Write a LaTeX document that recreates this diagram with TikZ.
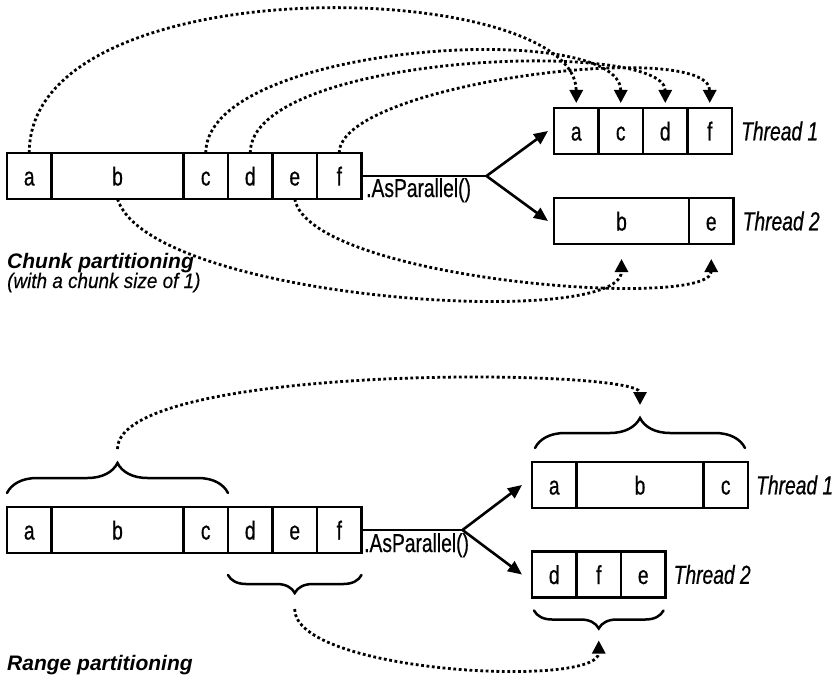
\documentclass[tikz,border=0pt]{standalone}
\usepackage{fontspec}
\setmainfont{Liberation Sans}[FakeStretch=0.74, FakeBold=0.6]
\newfontfamily\headfont{Liberation Sans}[FakeStretch=1.0]
\newfontfamily\notefont{Liberation Sans}[FakeStretch=0.9, FakeBold=0.4]
\usetikzlibrary{arrows.meta, positioning, calc, decorations.pathreplacing}

\begin{document}
\begin{tikzpicture}[
    x=1pt, y=-1pt,
    every node/.style={font=\fontsize{26}{30}\selectfont},
    cell/.style={draw, line width=2.3pt, minimum height=46pt, minimum width=44.5pt,
                 inner sep=0pt, outer sep=0pt, text height=19pt, text depth=0pt},
    wide/.style={cell, minimum width=#1},
    tag/.style={inner sep=0pt, font=\fontsize{26}{30}\selectfont\itshape},
    heading/.style={inner sep=0pt, anchor=base west, font=\headfont\fontsize{21}{24}\selectfont\bfseries\itshape},
    arrow/.style={-{Triangle[length=14pt,width=12pt]}, line width=2.6pt},
    dotline/.style={line width=2.8pt, dash pattern=on 2.8pt off 2.6pt},
    dotarrow/.style={dotline, -{Triangle[length=13pt,width=13pt]}},
    curly/.style={decorate, decoration={brace, amplitude=#1}, line width=2.5pt, line cap=round}
]
    \useasboundingbox (0,0) rectangle (833,682);

    % Chunk partitioning: source
    \node[cell, anchor=west] (ca) at (7,176) {a};
    \node[wide=132pt, right=0pt of ca] (cb) {b};
    \node[cell, right=0pt of cb] (cc) {c};
    \node[cell, right=0pt of cc] (cd) {d};
    \node[cell, right=0pt of cd] (ce) {e};
    \node[cell, right=0pt of ce] (cf) {f};

    % Chunk partitioning: threads
    \node[cell, anchor=west] (t1a) at (554,131) {a};
    \node[cell, right=0pt of t1a] (t1c) {c};
    \node[cell, right=0pt of t1c] (t1d) {d};
    \node[cell, right=0pt of t1d] (t1f) {f};
    \node[tag, right=9pt of t1f] (th1) {Thread 1};
    \node[wide=135pt, anchor=west] (t2b) at (554,221) {b};
    \node[cell, right=0pt of t2b] (t2e) {e};
    \node[tag, right=9pt of t2e] (th2) {Thread 2};

    \coordinate[right=125pt of cf] (cs);
    \draw[line width=2.6pt] (cf) -- (cs);
    \draw[arrow] (cs) -- ([xshift=-6pt]t1a.west);
    \draw[arrow] (cs) -- ([xshift=-6pt]t2b.west);
    \node[anchor=base west, inner sep=0pt] (ap1) at (366,197) {.AsParallel()};

    \draw[dotarrow, shorten >=5pt] (ca.north) .. controls +(0,-190) and +(0,-130) .. (t1a.north);
    \draw[dotarrow, shorten >=5pt] (cc.north) .. controls +(0,-110) and +(0,-90) .. (t1c.north);
    \draw[dotarrow, shorten >=5pt] (cd.north) .. controls +(0,-100) and +(0,-70) .. (t1d.north);
    \draw[dotarrow, shorten >=5pt] (cf.north) .. controls +(0,-70) and +(0,-70) .. (t1f.north);
    \draw[dotarrow, shorten >=15pt] (cb.south) .. controls +(32,101) and +(0,87) .. (t2b.south);
    \draw[dotarrow, shorten >=15pt] (ce.south) .. controls +(15,81) and +(0,67) .. (t2e.south);

    \node[heading] (chunk) at (7,268) {Chunk partitioning};
    \node[inner sep=0pt, anchor=base west, font=\notefont\fontsize{21}{24}\selectfont\itshape] (size) at (7,288) {(with a chunk size of 1)};

    % Range partitioning: source
    \node[cell, anchor=west] (ra) at (7,530) {a};
    \node[wide=132pt, right=0pt of ra] (rb) {b};
    \node[cell, right=0pt of rb] (rc) {c};
    \node[cell, right=0pt of rc] (rd) {d};
    \node[cell, right=0pt of rd] (re) {e};
    \node[cell, right=0pt of re] (rf) {f};

    % Range partitioning: threads
    \node[cell, anchor=west] (u1a) at (532,485) {a};
    \node[wide=127pt, right=0pt of u1a] (u1b) {b};
    \node[cell, right=0pt of u1b] (u1c) {c};
    \node[tag, right=8pt of u1c] (uh1) {Thread 1};
    \node[cell, anchor=west] (u2d) at (532,574.5) {d};
    \node[cell, right=0pt of u2d] (u2f) {f};
    \node[cell, right=0pt of u2f] (u2e) {e};
    \node[tag, right=8pt of u2e] (uh2) {Thread 2};

    \coordinate[right=101pt of rf] (rs);
    \draw[line width=2.6pt] (rf) -- (rs);
    \draw[arrow] (rs) -- ([xshift=-10pt]u1a.west);
    \draw[arrow] (rs) -- ([xshift=-10pt]u2d.west);
    \node[anchor=base west, inner sep=0pt] (ap2) at (364,552) {.AsParallel()};

    % braces
    \draw[curly=30pt] ([yshift=14pt]ra.north west) -- ([yshift=14pt]rc.north east);
    \draw[curly=30pt] ([xshift=3pt,yshift=14pt]u1a.north west) -- ([xshift=-3pt,yshift=14pt]u1c.north east);
    \draw[curly=18pt] ([yshift=-22pt]rf.south east) -- ([yshift=-22pt]rd.south west);
    \draw[curly=18pt] ([xshift=-2pt,yshift=-13pt]u2e.south east) -- ([xshift=2pt,yshift=-13pt]u2d.south west);
    \coordinate (bt1) at ($(ra.north west)!0.5!(rc.north east)+(0,-44)$);
    \coordinate (bt2) at ($(u1a.north west)!0.5!(u1c.north east)+(0,-44)$);
    \coordinate (bt3) at ($(rd.south west)!0.5!(rf.south east)+(0,40)$);
    \coordinate (bt4) at ($(u2d.south west)!0.5!(u2e.south east)+(0,31)$);

    \draw[dotarrow, shorten <=14pt, shorten >=13pt] (bt1) .. controls +(0,-100) and +(0,-50) .. (bt2);
    \draw[dotarrow, shorten <=16pt, shorten >=12pt] (bt3) .. controls +(0,80) and +(0,60) .. (bt4);

    \node[heading] (range) at (7,670) {Range partitioning};
\end{tikzpicture}
\end{document}
